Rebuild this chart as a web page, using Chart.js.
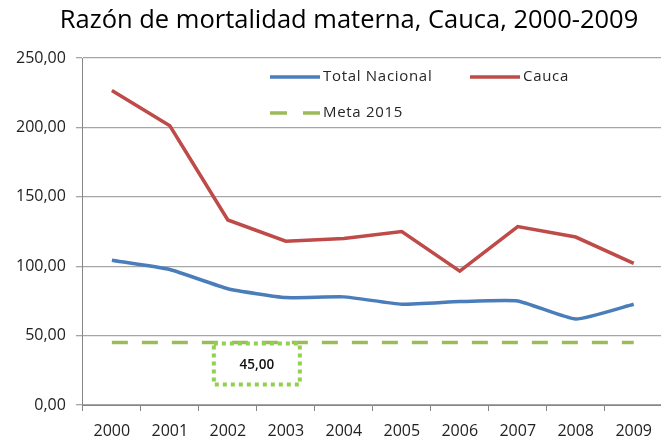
<!DOCTYPE html>
<html><head><meta charset="utf-8">
<script src="https://cdn.jsdelivr.net/npm/chart.js@4.4.0/dist/chart.umd.min.js"></script>
<style>html,body{margin:0;padding:0;background:#fff;overflow:hidden;}#wrap{width:661px;height:438px;position:relative;overflow:hidden;}</style>
</head><body><div id="wrap"><canvas id="c" width="664" height="438"></canvas></div>
<script>
const titleText = "Razón de mortalidad materna, Cauca, 2000-2009";
const years = ["2000","2001","2002","2003","2004","2005","2006","2007","2008","2009"];
const totalNacional = [104.3, 97.6, 83.8, 77.4, 77.9, 72.6, 74.5, 75.0, 61.9, 72.6];
const cauca = [226.6, 201.2, 133.3, 118.0, 120.0, 125.0, 96.4, 128.6, 121.0, 102.0];
const meta2015 = [45, 45, 45, 45, 45, 45, 45, 45, 45, 45];
const metaLabel = "45,00";
const yTicks = [0, 50, 100, 150, 200, 250];

const fmt = v => v.toFixed(2).replace('.', ',');

const overlayPlugin = {
  id: 'overlay',
  afterDatasetsDraw(chart) {
    const ctx = chart.ctx;
    const ds = chart.data.datasets;
    ctx.save();
    // title
    ctx.fillStyle = '#000';
    ctx.font = '25.5px "Open Sans", sans-serif';
    ctx.textAlign = 'center';
    ctx.textBaseline = 'middle';
    ctx.fillText(titleText, 349, 21);
    // legend
    const items = [
      {d: ds[0], x: 270, y: 77},
      {d: ds[1], x: 470, y: 77},
      {d: ds[2], x: 270, y: 113}
    ];
    ctx.font = '15px "Open Sans", sans-serif';
    ctx.textAlign = 'left';
    try { ctx.letterSpacing = '0.7px'; } catch (e) {}
    items.forEach(it => {
      ctx.strokeStyle = it.d.borderColor;
      ctx.lineWidth = 3.5;
      ctx.setLineDash(it.d.borderDash ? [17, 16] : []);
      ctx.beginPath();
      ctx.moveTo(it.x, it.y);
      ctx.lineTo(it.x + 50, it.y);
      ctx.stroke();
      ctx.setLineDash([]);
      ctx.fillStyle = '#262626';
      ctx.fillText(it.d.label, it.x + 53, it.y);
    });
    try { ctx.letterSpacing = '0px'; } catch (e) {}
    // annotation box
    const xs = chart.scales.x, ys = chart.scales.y;
    const cx = (xs.getPixelForValue(2) + xs.getPixelForValue(3)) / 2;
    const top = ys.getPixelForValue(45) + 1;
    const w = 86, h = 41;
    ctx.strokeStyle = '#92D050';
    ctx.lineWidth = 4;
    ctx.setLineDash([4, 4]);
    ctx.strokeRect(cx - w / 2, top, w, h);
    ctx.setLineDash([]);
    ctx.fillStyle = '#111';
    ctx.font = '600 13.5px "Open Sans", sans-serif';
    ctx.textAlign = 'center';
    ctx.fillText(metaLabel, cx, top + h / 2 + 1);
    ctx.restore();
  }
};

new Chart(document.getElementById('c'), {
  type: 'line',
  data: {
    labels: years,
    datasets: [
      {label: 'Total Nacional', data: totalNacional, borderColor: '#4A7EBB', borderWidth: 3.5, pointRadius: 0, tension: 0.15, fill: false},
      {label: 'Cauca', data: cauca, borderColor: '#BE4B48', borderWidth: 3.5, pointRadius: 0, tension: 0, fill: false},
      {label: 'Meta 2015', data: meta2015, borderColor: '#9BBB59', borderWidth: 3.5, borderDash: [16, 14], pointRadius: 0, tension: 0, fill: false}
    ]
  },
  options: {
    responsive: false,
    animation: false,
    layout: {padding: {left: 6, right: 0, top: 58, bottom: -13}},
    plugins: {
      legend: {display: false},
      tooltip: {enabled: false},
      title: {display: false}
    },
    scales: {
      x: {
        offset: true,
        grid: {display: true, drawOnChartArea: false, color: '#868686', tickLength: 6, offset: true},
        border: {color: '#868686', width: 1},
        ticks: {color: '#222', font: {family: '"Open Sans", sans-serif', size: 16, lineHeight: 1}, padding: 12, maxRotation: 0}
      },
      y: {
        min: 0, max: 250,
        afterBuildTicks: s => { s.ticks = yTicks.map(v => ({value: v})); },
        grid: {color: '#A6A6A6', lineWidth: 1.3, tickLength: 7},
        border: {color: '#868686', width: 1},
        ticks: {color: '#222', font: {family: '"Open Sans", sans-serif', size: 16}, padding: 10, callback: v => fmt(v)}
      }
    }
  },
  plugins: [overlayPlugin]
});
</script></body></html>
